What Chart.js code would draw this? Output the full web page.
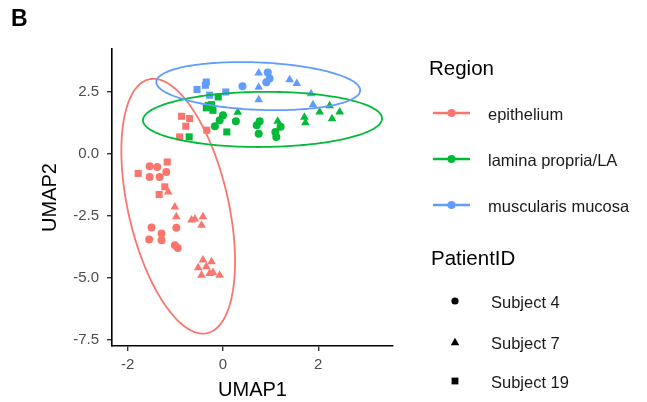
<!DOCTYPE html>
<html>
<head>
<meta charset="utf-8">
<script src="https://cdn.jsdelivr.net/npm/chart.js@4"></script>
<style>
  html, body { margin:0; padding:0; background:#fff; }
  #wrap { position:relative; width:647px; height:402px; font-family:"Liberation Sans", Arial, sans-serif; }
  #c { position:absolute; left:0; top:0; }
  .lbl { position:absolute; transform:translateY(-50%); white-space:nowrap; color:#000; line-height:1; }
  .ttl { font-size:20.5px; }
  .itm { font-size:16.5px; color:#1a1a1a; }
  .sym { position:absolute; transform:translateY(-50%); }
  #tag { position:absolute; left:11px; top:18px; transform:translateY(-50%); font-weight:bold; font-size:23px; line-height:1; }
</style>
</head>
<body>
<div id="wrap">
  <canvas id="c" width="647" height="402"></canvas>
  <div id="tag">B</div>
  <div id="legend"></div>
</div>
<script>
// ---- data (UMAP coordinates) ----
const regions = ["epithelium", "lamina propria/LA", "muscularis mucosa"];
const subjects = ["Subject 4", "Subject 7", "Subject 19"];
const xTicks = [-2, 0, 2];
const yTicks = [-7.5, -5.0, -2.5, 0.0, 2.5];

// epithelium
const epiS4 = [[-1.54,-0.51],[-1.38,-0.54],[-1.54,-0.94],[-1.33,-0.94],[-1.19,-0.74],
  [-1.50,-2.98],[-0.98,-2.99],[-1.55,-3.46],[-1.29,-3.22],[-1.29,-3.49],[-1.01,-3.69],[-0.95,-3.80]];
const epiS7 = [[-1.15,-1.55],[-1.01,-2.15],[-0.98,-2.55],[-0.66,-2.68],[-0.42,-2.55],[-0.45,-2.89],[-0.59,-2.64],
  [-0.42,-4.29],[-0.24,-4.36],[-0.52,-4.60],[-0.35,-4.56],[-0.21,-4.79],[-0.07,-4.90],[-0.45,-4.90],[-0.28,-4.83]];
const epiS19 = [[-0.87,1.50],[-0.70,1.41],[-0.78,1.10],[-0.91,0.67],[-0.34,0.94],
  [-1.17,-0.34],[-1.78,-0.80],[-1.22,-1.34],[-1.34,-1.65]];
// lamina propria/LA
const lamS4 = [[0.00,1.54],[-0.07,1.34],[-0.17,1.10],[0.27,1.30],[0.71,1.14],[0.77,1.30],[0.75,0.80],
  [1.10,0.87],[1.12,0.67],[1.21,1.08]];
const lamS7 = [[0.31,1.66],[1.15,1.30],[1.71,1.46],[1.73,1.24],[2.03,1.67],[2.24,1.92],[2.29,1.40],[2.45,1.67]];
const lamS19 = [[-0.10,2.28],[-0.31,1.94],[-0.21,1.74],[-0.24,1.97],[-0.35,1.84],[0.08,0.87],[-0.71,0.67]];
// muscularis mucosa
const musS4 = [[0.41,2.71],[0.94,3.26],[0.91,2.87],[0.98,3.02]];
const musS7 = [[0.75,3.24],[0.75,2.67],[0.75,2.17],[1.40,2.97],[1.55,2.82],[1.85,2.41],[1.89,1.96]];
const musS19 = [[-0.545,2.58],[-0.35,2.88],[-0.37,2.75],[-0.28,2.35],[0.06,2.48]];

// confidence ellipses: centre and two conjugate semi-axis vectors (data units)
const ellEpi = { c:[-0.94,-2.12], a:[0.612,-5.11], b:[1.025,0.455] };
const ellLam = { c:[0.83,1.375], a:[2.51,0.035], b:[0.0,1.11] };
const ellMus = { c:[0.74,2.715], a:[2.14,-0.165], b:[0.0,0.955] };

// ---- styling ----
const colors = ["#F8766D", "#00BA38", "#619CFF"];
const shapes = ["circle", "triangle", "rect"];
const radii = [4, 5, 5];

const groups = [[epiS4, epiS7, epiS19], [lamS4, lamS7, lamS19], [musS4, musS7, musS19]];
const ellipses = [ellEpi, ellLam, ellMus];

const datasets = [];
groups.forEach((g, ri) => {
  g.forEach((pts, si) => {
    datasets.push({
      label: regions[ri] + " / " + subjects[si],
      data: pts.map(p => ({x: p[0], y: p[1]})),
      pointStyle: shapes[si],
      pointRadius: radii[si],
      pointBorderWidth: 0,
      backgroundColor: colors[ri],
      borderColor: colors[ri]
    });
  });
});

const ellipsePlugin = {
  id: 'ellipses',
  afterDatasetsDraw(chart) {
    const {ctx, scales: {x, y}} = chart;
    ctx.save();
    ctx.lineWidth = 1.8;
    ellipses.forEach((e, i) => {
      ctx.strokeStyle = colors[i];
      ctx.beginPath();
      const n = 180;
      for (let k = 0; k <= n; k++) {
        const t = (k / n) * Math.PI * 2;
        const dx = e.c[0] + Math.cos(t) * e.a[0] + Math.sin(t) * e.b[0];
        const dy = e.c[1] + Math.cos(t) * e.a[1] + Math.sin(t) * e.b[1];
        const px = x.getPixelForValue(dx), py = y.getPixelForValue(dy);
        if (k === 0) ctx.moveTo(px, py); else ctx.lineTo(px, py);
      }
      ctx.stroke();
    });
    ctx.restore();
  }
};

const FONT = "'Liberation Sans', Arial, sans-serif";
const AREA = {left: 112, top: 49, right: 393, bottom: 346};

new Chart(document.getElementById('c'), {
  type: 'scatter',
  data: { datasets },
  plugins: [ellipsePlugin],
  options: {
    responsive: false,
    animation: false,
    events: [],
    layout: { padding: { left: 0, top: AREA.top, right: 647 - AREA.right, bottom: 0 } },
    plugins: { legend: { display: false }, tooltip: { enabled: false } },
    scales: {
      x: {
        type: 'linear',
        min: -2.33, max: 3.57,
        afterBuildTicks: s => { s.ticks = xTicks.map(v => ({value: v})); },
        afterFit: s => { s.height = 402 - AREA.bottom; },
        ticks: { color: '#4D4D4D', font: {family: FONT, size: 15}, padding: 5 },
        grid: { display: true, drawOnChartArea: false, drawTicks: true, tickLength: 5, color: '#333333', lineWidth: 1.4 },
        border: { display: true, color: '#000', width: 1.6 },
        title: { display: true, text: 'UMAP1', color: '#000', font: {family: FONT, size: 20}, padding: {top: 0, bottom: 0} }
      },
      y: {
        type: 'linear',
        min: -7.75, max: 4.21,
        afterBuildTicks: s => { s.ticks = yTicks.map(v => ({value: v})); },
        afterFit: s => { s.width = AREA.left; },
        ticks: { color: '#4D4D4D', font: {family: FONT, size: 15}, padding: 8, callback: v => Number(v).toFixed(1) },
        grid: { display: true, drawOnChartArea: false, drawTicks: true, tickLength: 5, color: '#333333', lineWidth: 1.4 },
        border: { display: true, color: '#000', width: 1.6 },
        title: { display: true, text: 'UMAP2', color: '#000', font: {family: FONT, size: 20}, padding: {top: 38, bottom: 0} }
      }
    }
  }
});

// ---- HTML legend ----
const leg = document.getElementById('legend');
function addText(txt, cls, left, top) {
  const d = document.createElement('div');
  d.className = 'lbl ' + cls;
  d.style.left = left + 'px'; d.style.top = top + 'px';
  d.textContent = txt;
  leg.appendChild(d);
}
function addSvg(svg, left, top, w, h) {
  const d = document.createElement('div');
  d.className = 'sym';
  d.style.left = left + 'px'; d.style.top = top + 'px';
  d.innerHTML = `<svg width="${w}" height="${h}" viewBox="0 0 ${w} ${h}">${svg}</svg>`;
  leg.appendChild(d);
}
addText('Region', 'ttl', 429, 68);
const regY = [114, 160, 206];
regions.forEach((r, i) => {
  addSvg(`<line x1="0" y1="6" x2="37" y2="6" stroke="${colors[i]}" stroke-width="2.4"/><circle cx="18.5" cy="6" r="4" fill="${colors[i]}"/>`, 433, regY[i], 38, 12);
  addText(r, 'itm', 488, regY[i]);
});
addText('PatientID', 'ttl', 431, 258);
const subY = [302, 343, 382];
const subSvg = [
  `<circle cx="6" cy="6" r="3.6" fill="#000"/>`,
  `<polygon points="6,1.8 10.3,9.2 1.7,9.2" fill="#000"/>`,
  `<rect x="2.6" y="2.6" width="6.8" height="6.8" fill="#000"/>`
];
subjects.forEach((s, i) => {
  addSvg(subSvg[i], 449, subY[i], 12, 12);
  addText(s, 'itm', 491, subY[i]);
});
</script>
</body>
</html>
